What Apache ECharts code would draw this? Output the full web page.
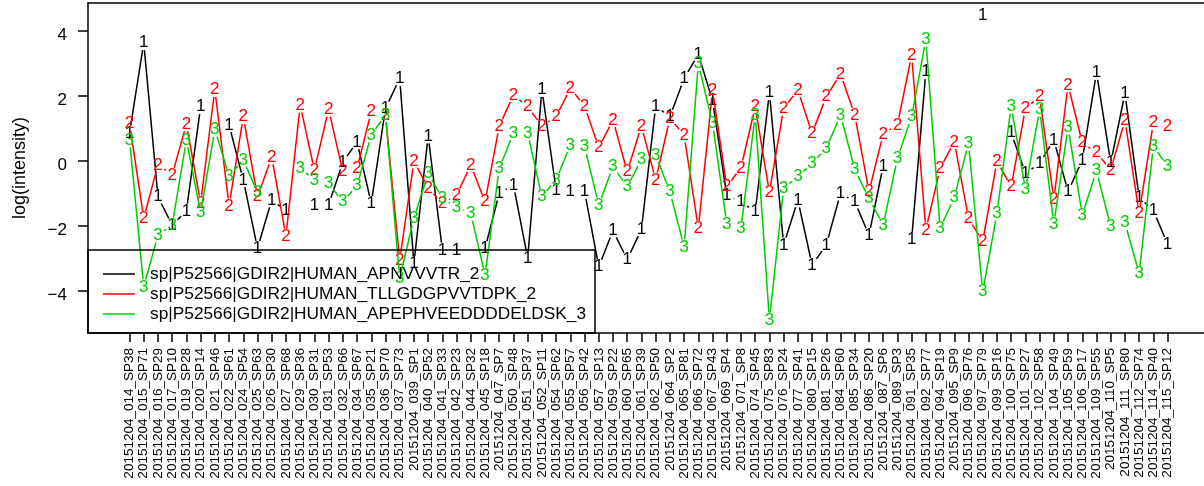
<!DOCTYPE html>
<html>
<head>
  <meta charset="UTF-8" />
  <title></title>
  <style type="text/css">
    * {
      margin: 0;
      padding: 0;
    }
    #main {
      width: 1204px;
      height: 486px;
      background-color: #fff;
    }
  </style>
</head>
<body>
  <div id="main"></div>
</body>
<script src="https://cdn.jsdelivr.net/npm/echarts@6/dist/echarts.min.js"></script>
<script type="text/javascript">
  // 样本名
  let samples = [
    '20151204_014_SP38', '20151204_015_SP71', '20151204_016_SP29', '20151204_017_SP10', '20151204_019_SP28',
    '20151204_020_SP14', '20151204_021_SP46', '20151204_022_SP61', '20151204_024_SP54', '20151204_025_SP63',
    '20151204_026_SP30', '20151204_027_SP68', '20151204_029_SP36', '20151204_030_SP31', '20151204_031_SP53',
    '20151204_032_SP66', '20151204_034_SP67', '20151204_035_SP21', '20151204_036_SP70', '20151204_037_SP73',
    '20151204_039_SP1', '20151204_040_SP52', '20151204_041_SP33', '20151204_042_SP23', '20151204_044_SP32',
    '20151204_045_SP18', '20151204_047_SP7', '20151204_050_SP48', '20151204_051_SP37', '20151204_052_SP11',
    '20151204_054_SP62', '20151204_055_SP57', '20151204_056_SP42', '20151204_057_SP13', '20151204_059_SP22',
    '20151204_060_SP65', '20151204_061_SP39', '20151204_062_SP50', '20151204_064_SP2', '20151204_065_SP81',
    '20151204_066_SP72', '20151204_067_SP43', '20151204_069_SP4', '20151204_071_SP8', '20151204_074_SP45',
    '20151204_075_SP83', '20151204_076_SP24', '20151204_077_SP41', '20151204_080_SP15', '20151204_081_SP26',
    '20151204_084_SP60', '20151204_085_SP34', '20151204_086_SP20', '20151204_087_SP6', '20151204_089_SP3',
    '20151204_091_SP35', '20151204_092_SP77', '20151204_094_SP19', '20151204_095_SP9', '20151204_096_SP76',
    '20151204_097_SP79', '20151204_099_SP16', '20151204_100_SP75', '20151204_101_SP27', '20151204_102_SP58',
    '20151204_104_SP49', '20151204_105_SP59', '20151204_106_SP17', '20151204_109_SP55', '20151204_110_SP5',
    '20151204_111_SP80', '20151204_112_SP74', '20151204_114_SP40', '20151204_115_SP12'
  ]

  let peptides = [
    'sp|P52566|GDIR2|HUMAN_APNVVVTR_2',
    'sp|P52566|GDIR2|HUMAN_TLLGDGPVVTDPK_2',
    'sp|P52566|GDIR2|HUMAN_APEPHVEEDDDDELDSK_3'
  ]

  // null = 缺失值
  let pep1 = [
    0.86, 3.64, -1.10, -1.97, -1.54, 1.67, null, 1.11, -0.58, -2.68,
    -1.20, -1.53, null, -1.35, -1.35, -0.04, 0.59, -1.30, 1.62, 2.54,
    -3.15, 0.77, -2.74, -2.74, null, -2.69, -0.99, -0.74, -2.99, 2.20,
    -0.89, -0.94, -0.94, -3.25, -2.14, -3.03, -2.10, 1.69, 1.36, 2.54,
    3.28, 1.86, -1.05, -1.25, -1.56, 2.10, -2.58, -1.20, -3.20, -2.58,
    -0.99, -1.25, -2.28, -0.15, null, -2.41, 2.75, null, null, null,
    4.49, null, 0.87, -0.38, -0.07, 0.65, -0.94, 0.03, 2.72, -0.05,
    2.08, -1.12, -1.53, -2.55
  ]
  let pep2 = [
    1.16, -1.76, -0.12, -0.43, 1.14, -1.29, 2.20, -1.38, 1.36, -1.10,
    0.12, -2.31, 1.72, -0.28, 1.59, -0.33, -0.23, 1.52, 1.42, -3.05,
    0.00, -0.84, -1.30, -1.05, -0.12, -1.25, 1.08, 2.03, 1.67, 1.08,
    1.36, 2.24, 1.69, 0.41, 1.26, -0.33, 1.08, -0.58, 1.31, 0.80,
    -2.07, 2.18, -0.79, -0.21, 1.67, -0.97, 1.62, 2.18, 0.85, 1.98,
    2.68, 1.42, -0.94, 0.83, 1.11, 3.26, -2.12, -0.23, 0.59, -1.76,
    -2.48, 0.00, -0.79, 1.62, 1.98, -1.18, 2.34, 0.56, 0.26, -0.28,
    1.26, -1.61, 1.18, 1.08
  ]
  let pep3 = [
    0.65, -3.87, -2.28, -1.97, 0.65, -1.59, 0.97, -0.46, 0.03, -0.97,
    null, null, -0.23, -0.58, -0.69, -1.25, -0.76, 0.80, 1.42, -3.60,
    -1.76, -0.38, -1.15, -1.41, -1.61, -3.51, -0.23, 0.85, 0.85, -1.10,
    -0.58, 0.49, 0.44, -1.35, -0.17, -0.79, 0.05, 0.18, -0.94, -2.64,
    3.00, 1.16, -1.94, -2.07, 1.42, -4.89, -0.84, -0.48, -0.07, 0.39,
    1.42, -0.26, -1.15, -1.97, 0.08, 1.36, 3.74, -2.07, -1.12, 0.54,
    -4.02, -1.61, 1.69, -0.87, 1.59, -1.94, 1.04, -1.66, -0.30, -2.02,
    -1.90, -3.46, 0.46, -0.17
  ]

  let yTicks = [-4, -2, 0, 2, 4]

  let colors = ['#000000', '#ff0000', '#00cd00']
  let FONT = '"Liberation Sans", Arial, Helvetica, sans-serif'
  let GAP = 7.5 // type="b" 点周围的空隙

  let xTicks = samples.map((s, i) => i + 1)
  // x 轴范围: 左边留 2.92 个单位, 右边被图片裁掉
  let xMin = 1 - 2.92
  let xMax = 76.56

  // 画 R 的 type="b" 效果: 数字 + 断开的线段
  function makeRender(vals, mark, color) {
    return function (params, api) {
      let x = api.value(0)
      let y = api.value(1)
      let p = api.coord([x, y])
      let children = [{
        type: 'text',
        style: {
          text: mark,
          x: p[0],
          y: p[1],
          fill: color,
          font: '17px ' + FONT,
          align: 'center',
          verticalAlign: 'middle'
        }
      }]
      let next = vals[x] // x 从 1 开始, 下一个点的下标就是 x
      if (next !== null && next !== undefined) {
        let q = api.coord([x + 1, next])
        let dx = q[0] - p[0]
        let dy = q[1] - p[1]
        let len = Math.sqrt(dx * dx + dy * dy)
        if (len > 2 * GAP) {
          let f = GAP / len
          children.push({
            type: 'line',
            shape: { x1: p[0] + dx * f, y1: p[1] + dy * f, x2: q[0] - dx * f, y2: q[1] - dy * f },
            style: { stroke: color, lineWidth: 1.5 }
          })
        }
      }
      return { type: 'group', children: children }
    }
  }

  function makeSeries(idx, vals) {
    let data = []
    vals.forEach((v, i) => {
      if (v !== null) data.push([i + 1, v])
    })
    return {
      type: 'custom',
      name: peptides[idx],
      renderItem: makeRender(vals, String(idx + 1), colors[idx]),
      itemStyle: { color: colors[idx] },
      data: data,
      clip: true,
      silent: true
    }
  }

  let myChart = echarts.init(document.getElementById('main'), null, { renderer: 'canvas' })

  let lineStyle = { color: '#000', width: 1.5 }

  let option = {
    animation: false,
    backgroundColor: '#fff',
    textStyle: { fontFamily: FONT, color: '#000' },
    grid: {
      left: 88,
      right: 0,
      top: 3,
      height: 330,
      show: false
    },
    xAxis: [{
      type: 'value',
      position: 'bottom',
      min: xMin,
      max: xMax,
      axisLine: { show: true, onZero: false, lineStyle: lineStyle },
      splitLine: { show: false },
      axisTick: {
        show: true,
        customValues: xTicks,
        length: 9,
        lineStyle: lineStyle
      },
      axisLabel: {
        customValues: xTicks,
        rotate: 90,
        margin: 15,
        fontSize: 13.5,
        color: '#000',
        fontFamily: FONT,
        formatter: v => samples[v - 1]
      }
    }, {
      // 上边框
      type: 'value',
      position: 'top',
      min: xMin,
      max: xMax,
      axisLine: { show: true, onZero: false, lineStyle: lineStyle },
      axisTick: { show: false },
      axisLabel: { show: false },
      splitLine: { show: false }
    }],
    yAxis: {
      type: 'value',
      min: -5.29,
      max: 4.86,
      name: 'log(intensity)',
      nameLocation: 'middle',
      nameGap: 59,
      nameTextStyle: { fontSize: 18, color: '#000', fontFamily: FONT },
      axisLine: { show: true, onZero: false, lineStyle: lineStyle },
      splitLine: { show: false },
      axisTick: {
        show: true,
        customValues: yTicks,
        length: 10,
        lineStyle: lineStyle
      },
      axisLabel: {
        customValues: yTicks,
        margin: 21,
        color: '#000',
        formatter: v => '{a|' + String(v).replace('-', '\u2212') + '}',
        rich: {
          a: { fontSize: 17, fontFamily: FONT, color: '#000', padding: [8, 0, 0, 0] }
        }
      }
    },
    legend: {
      orient: 'vertical',
      left: 103,
      top: 265.5,
      padding: 0,
      itemGap: 3,
      itemWidth: 32,
      itemHeight: 1.5,
      icon: 'rect',
      selectedMode: false,
      data: peptides,
      textStyle: { fontSize: 17.3, color: '#000', fontFamily: FONT, padding: [0, 0, 0, 10] }
    },
    graphic: [{
      type: 'rect',
      shape: { x: 88, y: 250, width: 507, height: 83 },
      style: { fill: 'none', stroke: '#000', lineWidth: 1.5 },
      z: 100
    }],
    series: [
      makeSeries(0, pep1),
      makeSeries(1, pep2),
      makeSeries(2, pep3)
    ]
  }

  myChart.setOption(option)
</script>
</html>
